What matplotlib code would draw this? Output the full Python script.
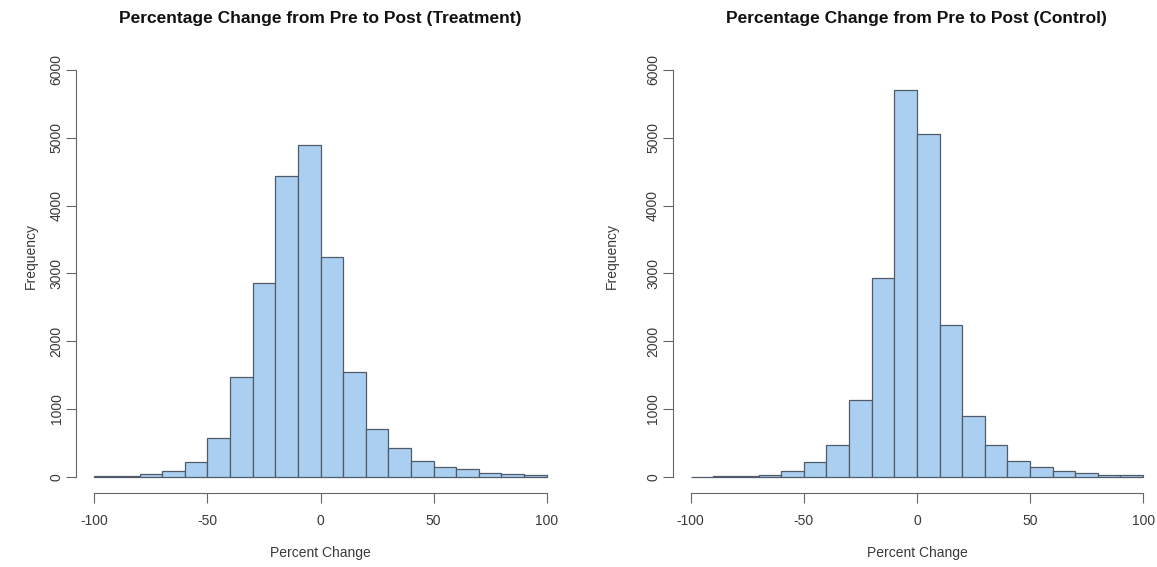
import numpy as np
import matplotlib
matplotlib.use("Agg")
import matplotlib.pyplot as plt

plt.rcParams["font.family"] = ["Liberation Sans", "DejaVu Sans"]

# bin edges: -100 to 100 in steps of 10
bin_edges = list(range(-100, 101, 10))

# counts, one per bin
treatment_counts = [10, 15, 35, 80, 216, 570, 1466, 2853, 4437, 4889,
                    3241, 1540, 698, 418, 231, 148, 108, 59, 39, 20]
control_counts = [3, 5, 12, 25, 90, 221, 467, 1126, 2927, 5701,
                  5052, 2233, 890, 467, 231, 143, 79, 59, 30, 20]

panel_titles = ["Percentage Change from Pre to Post (Treatment)",
                "Percentage Change from Pre to Post (Control)"]
x_ticks = [-100, -50, 0, 50, 100]
y_ticks = [0, 1000, 2000, 3000, 4000, 5000, 6000]

FILL = "#abcff1"
EDGE = "#505a68"
AXIS = "#666666"
TEXT = "#3a3a3a"
W, H = 1157, 567

fig = plt.figure(figsize=(W / 100, H / 100), dpi=100)

# axes placed in pixel terms to mimic the R base-graphics layout
panels = [(76.2, 564.8), (672.6, 1161.2)]
ylabel_x = [-0.079, -0.109]
top_px, bottom_px = 53.7, 493.0

for (x0, x1), lx, counts, title in zip(panels, ylabel_x,
                                       [treatment_counts, control_counts], panel_titles):
    ax = fig.add_axes([x0 / W, 1 - bottom_px / H, (x1 - x0) / W, (bottom_px - top_px) / H])
    edges = np.array(bin_edges)
    ax.bar(edges[:-1], counts, width=np.diff(edges), align="edge",
           color=FILL, edgecolor=EDGE, linewidth=0.9)

    ax.set_xlim(-108, 108)
    ax.set_ylim(-240, 6240)
    for side in ["top", "right"]:
        ax.spines[side].set_visible(False)
    ax.spines["left"].set_bounds(0, 6000)
    ax.spines["bottom"].set_bounds(-100, 100)
    for side in ["left", "bottom"]:
        ax.spines[side].set_color(AXIS)
        ax.spines[side].set_linewidth(0.8)

    ax.set_xticks(x_ticks)
    ax.set_xticklabels([str(t) for t in x_ticks])
    ax.set_yticks(y_ticks)
    ax.set_yticklabels([str(t) for t in y_ticks], rotation=90, va="center")
    ax.tick_params(axis="both", length=7, width=0.8, color=AXIS,
                   labelsize=10, labelcolor=TEXT)
    ax.tick_params(axis="x", pad=8)
    ax.tick_params(axis="y", pad=2)

    ax.set_xlabel("Percent Change", fontsize=10, color=TEXT, labelpad=13)
    ax.set_ylabel("Frequency", fontsize=10, color=TEXT)
    ax.yaxis.set_label_coords(lx, 0.54)
    ax.set_title(title, fontsize=12.5, fontweight="bold", pad=22, color="#111111")

fig.savefig("out.png", dpi=100)
